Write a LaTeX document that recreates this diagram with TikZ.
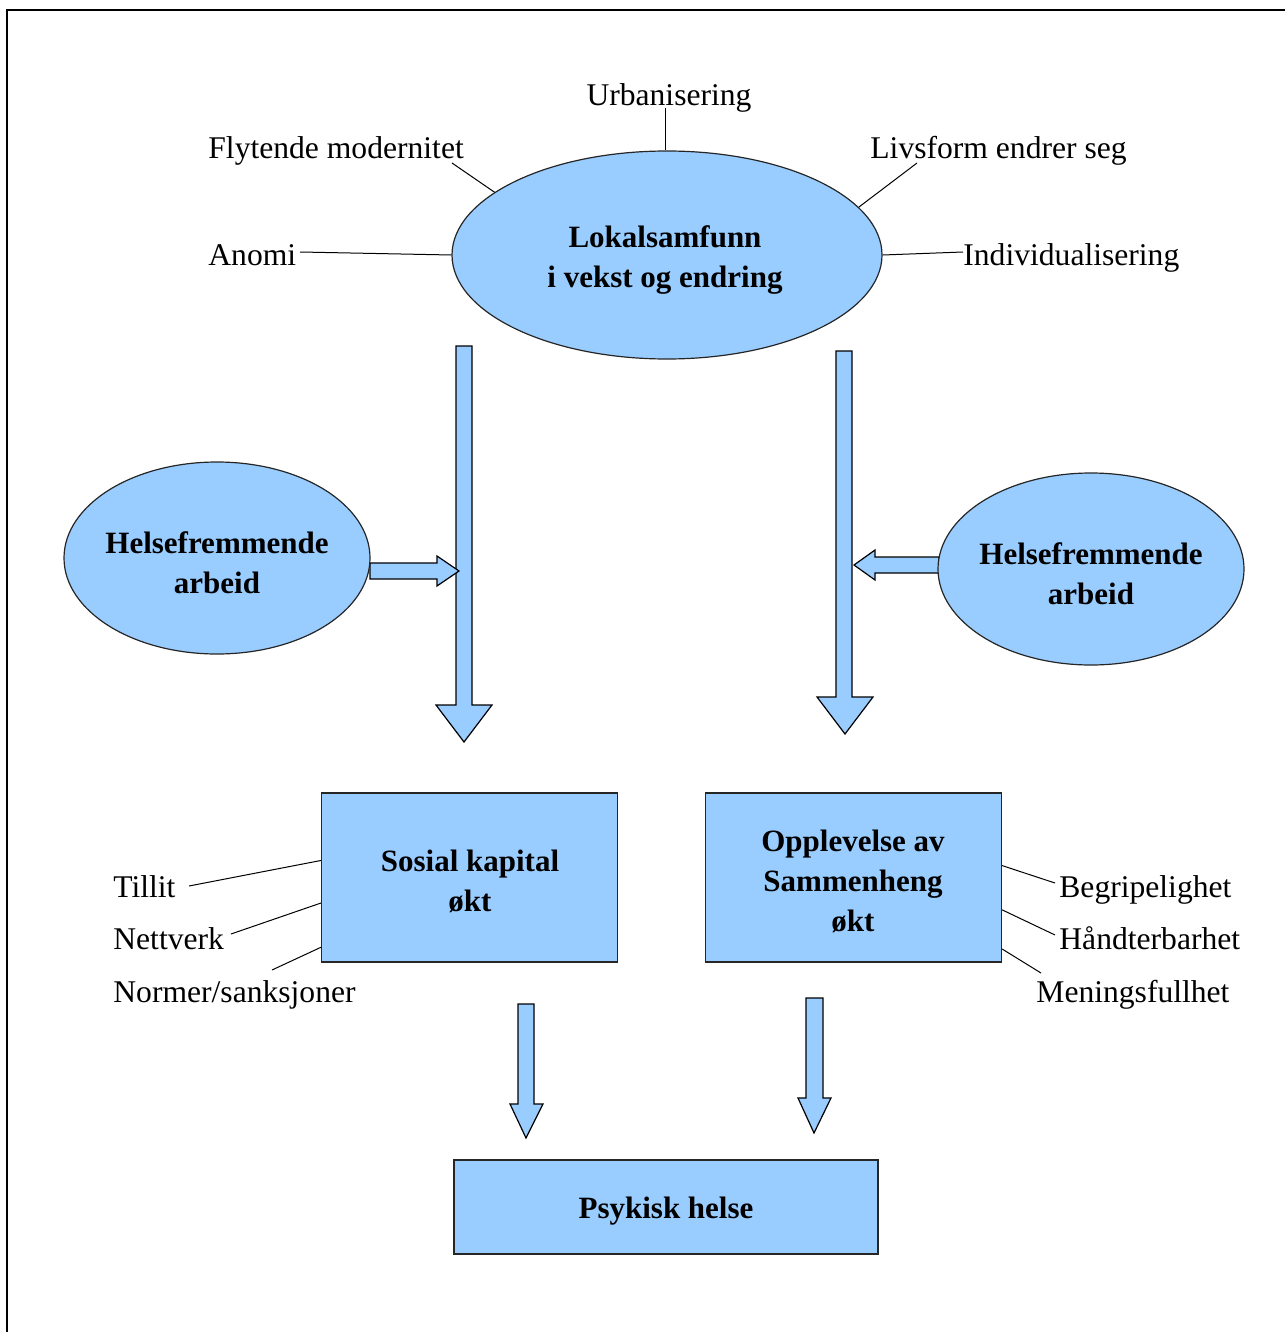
\documentclass[tikz,border=0pt]{standalone}
\usepackage{fontspec}
\setmainfont{Liberation Serif}
\usetikzlibrary{calc,shapes.geometric}
\definecolor{boxblue}{HTML}{99CCFF}
\begin{document}
\begin{tikzpicture}[x=0.5pt,y=-0.5pt,
  lab/.style={font=\fontsize{15.8}{19}\selectfont, inner sep=0pt},
  bt/.style={font=\bfseries\fontsize{15.5}{20}\selectfont, align=center, inner sep=0pt},
  ell/.style={ellipse, draw=black!85, fill=boxblue, line width=0.6pt, inner sep=0pt},
  bx/.style={rectangle, draw=black!85, fill=boxblue, line width=0.6pt, inner sep=0pt},
  conn/.style={line width=0.5pt, black},
  barrow/.style={draw=black, fill=boxblue, line width=0.6pt, line join=miter}]
\useasboundingbox (0,0) rectangle (1285,1332);
% frame
\draw[line width=0.6pt] (7,1332) -- (7,10) -- (1285,10);

% block arrows
\draw[barrow] (456,346) -- (472,346) -- (472,705) -- (492,705) -- (464,742) -- (436,705) -- (456,705) -- cycle;
\draw[barrow] (836,351) -- (852,351) -- (852,697) -- (873,697) -- (845,734) -- (817,697) -- (836,697) -- cycle;
\draw[barrow] (370,563) -- (437,563) -- (437,556) -- (459,571) -- (437,586) -- (437,579) -- (370,579) -- cycle;
\draw[barrow] (939,557) -- (875,557) -- (875,550) -- (854,565) -- (875,580) -- (875,573) -- (939,573) -- cycle;
\draw[barrow] (518,1004) -- (534,1004) -- (534,1104) -- (543,1104) -- (526,1138) -- (510,1104) -- (518,1104) -- cycle;
\draw[barrow] (806,998) -- (823,998) -- (823,1098) -- (831,1098) -- (814,1133) -- (798,1098) -- (806,1098) -- cycle;

% ellipses
\node[ell, minimum width=215pt, minimum height=104pt] (lok) at (667,255) {};
\node[bt] (loktxt) at (665,260) {Lokalsamfunn\\i vekst og endring};
\node[ell, minimum width=153pt, minimum height=96pt] (hl) at (217,558) {};
\node[bt] (hltxt) at (217,563) {Helsefremmende\\arbeid};
\node[ell, minimum width=153pt, minimum height=96pt] (hr) at (1091,569) {};
\node[bt] (hrtxt) at (1091,574) {Helsefremmende\\arbeid};

% boxes
\node[bx, minimum width=148pt, minimum height=84.5pt] (sk) at (469.5,877.5) {};
\node[bt] (sktxt) at (470,881) {Sosial kapital\\økt};
\node[bx, minimum width=148pt, minimum height=84.5pt] (op) at (853.5,877.5) {};
\node[bt] (optxt) at (853,881) {Opplevelse av\\Sammenheng\\økt};
\node[bx, minimum width=212pt, minimum height=47pt] (ph) at (666,1207) {};
\node[bt] (phtxt) at (666,1211) {Psykisk helse};

% labels around top ellipse
\node[lab, anchor=base] (urb) at (669,106) {Urbanisering};
\node[lab, anchor=base west] (fly) at (208,159) {Flytende modernitet};
\node[lab, anchor=base west] (liv) at (870,159) {Livsform endrer seg};
\node[lab, anchor=base west] (ano) at (208,265) {Anomi};
\node[lab, anchor=base west] (ind) at (963,265) {Individualisering};

\coordinate (u1) at (665,108);
\coordinate (f1) at (452,163);
\coordinate (l1) at (917,163);
\coordinate (a1) at (300,252);
\coordinate (i1) at (963,252);
\draw[conn] (u1) -- (u1 |- lok.north);
\draw[conn] (f1) -- (lok.160);
\draw[conn] (l1) -- (lok.14);
\draw[conn] (a1) -- (lok.west);
\draw[conn] (lok.east) -- (i1);

% labels around lower boxes
\node[lab, anchor=base west] (til) at (113,897) {Tillit};
\node[lab, anchor=base west] (net) at (113,949) {Nettverk};
\node[lab, anchor=base west] (nor) at (113,1002) {Normer/sanksjoner};
\node[lab, anchor=base west] (beg) at (1059,897) {Begripelighet};
\node[lab, anchor=base west] (han) at (1059,949) {Håndterbarhet};
\node[lab, anchor=base west] (men) at (1036,1002) {Meningsfullhet};

\coordinate (t1) at (189,886);
\coordinate (n1) at (231,934);
\coordinate (no1) at (272,970);
\coordinate (b1) at (1055,883);
\coordinate (h1) at (1055,935);
\coordinate (m1) at (1041,973);
\draw[conn] (t1) -- ($(sk.north west)!0.40!(sk.south west)$);
\draw[conn] (n1) -- ($(sk.north west)!0.65!(sk.south west)$);
\draw[conn] (no1) -- ($(sk.north west)!0.91!(sk.south west)$);
\draw[conn] ($(op.north east)!0.43!(op.south east)$) -- (b1);
\draw[conn] ($(op.north east)!0.69!(op.south east)$) -- (h1);
\draw[conn] ($(op.north east)!0.92!(op.south east)$) -- (m1);
\end{tikzpicture}
\end{document}
